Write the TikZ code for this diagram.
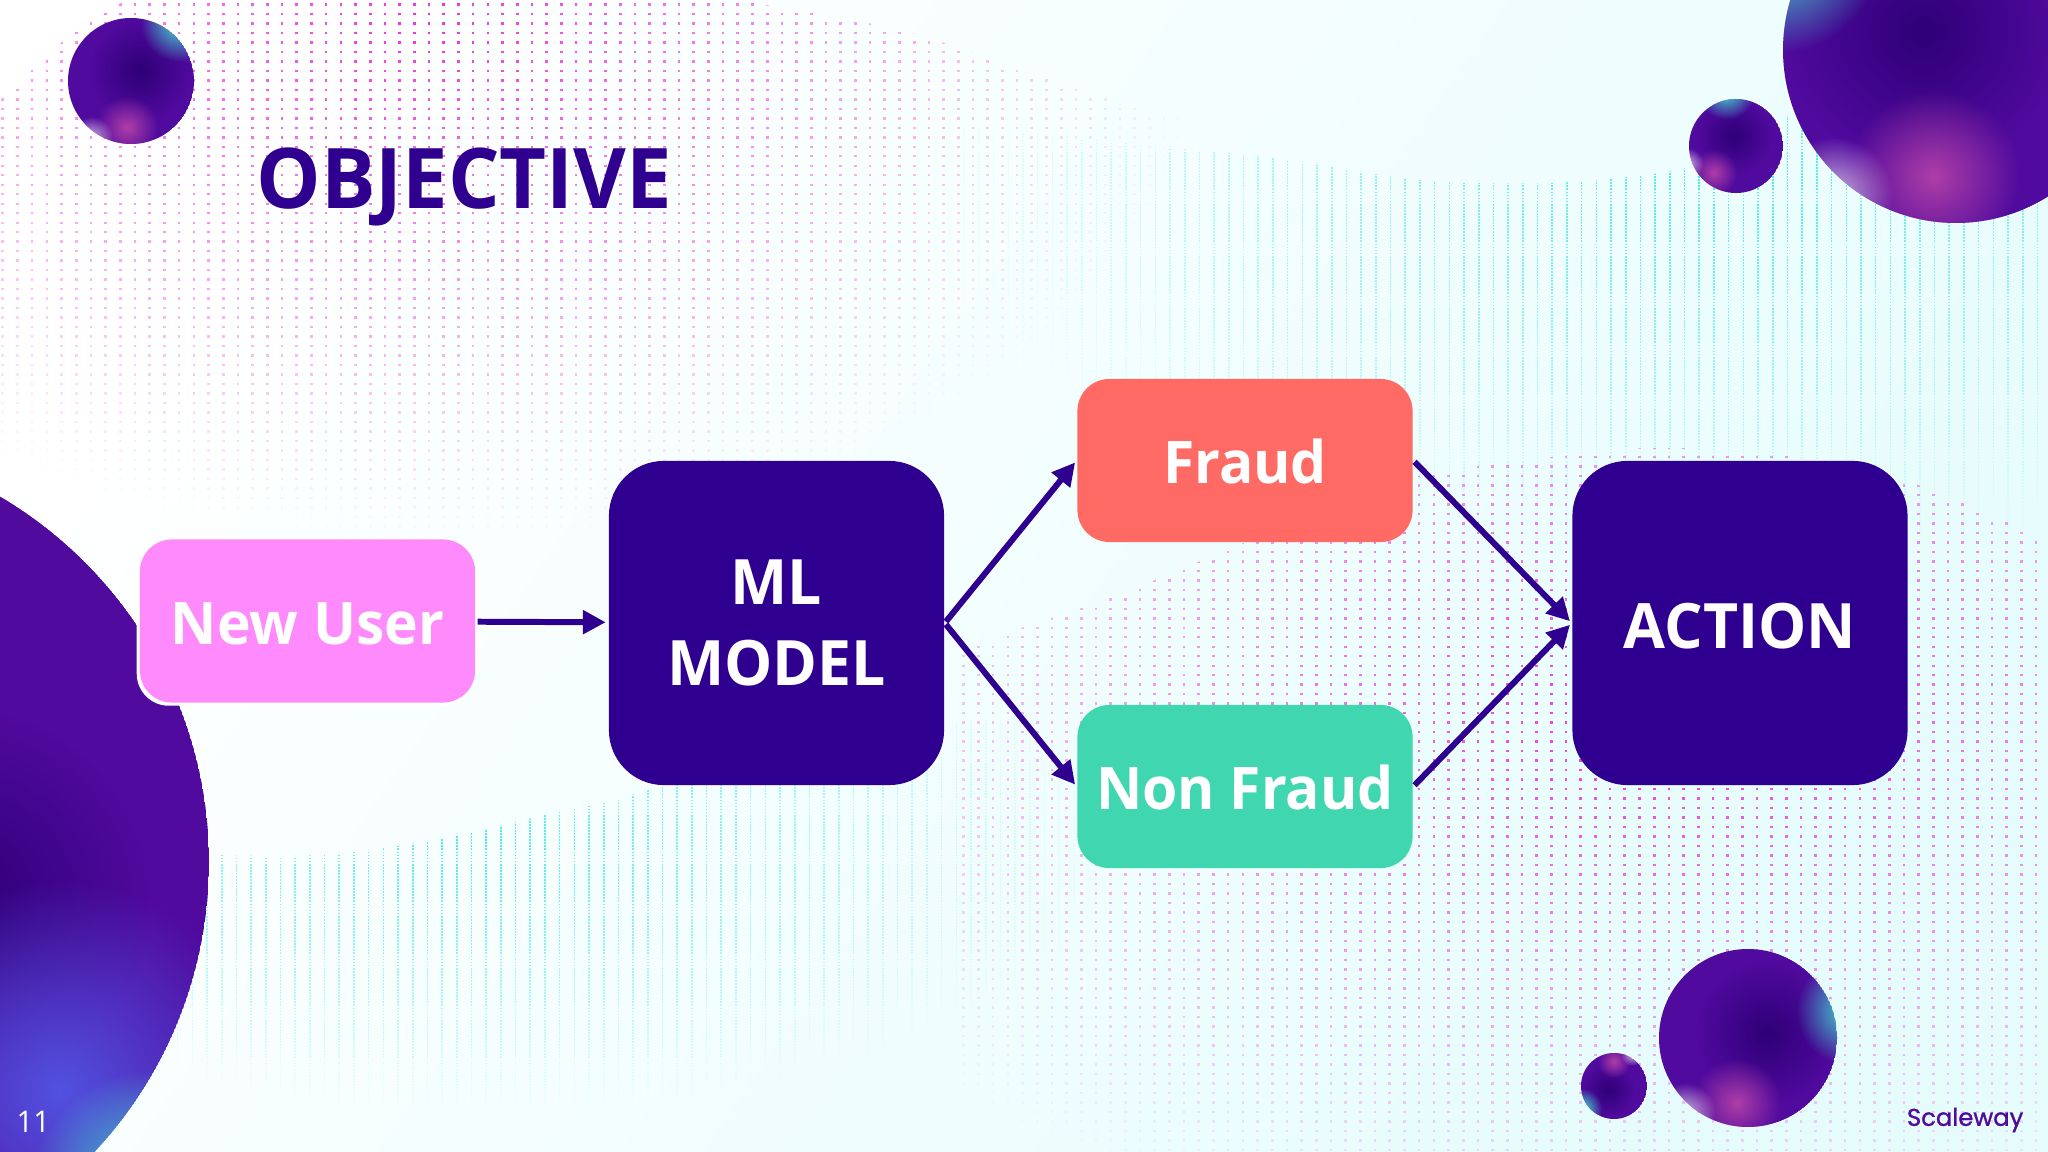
\documentclass[tikz,border=0pt]{standalone}
\usepackage{fontspec}
\setmainfont{Open Sans}[FakeStretch=0.97]
\newfontfamily\logofont{Poppins}[FakeBold=1.2]
\usetikzlibrary{arrows.meta,fadings,shadows}

\definecolor{slateindigo}{HTML}{2F0090}
\definecolor{userpink}{HTML}{FF8AFB}
\definecolor{fraudred}{HTML}{FF6B64}
\definecolor{okgreen}{HTML}{40D6B0}
\definecolor{paleaqua}{HTML}{E6FCFC}
\definecolor{dotpink}{HTML}{F030E0}
\definecolor{dotcyan}{HTML}{45EDE6}
\definecolor{ballbase}{HTML}{500A9E}
\definecolor{ballcore}{HTML}{2E0078}
\definecolor{ballteal}{HTML}{3FE3D0}
\definecolor{ballglow}{HTML}{B844A8}
\definecolor{ballpale}{HTML}{E8D4EC}
\definecolor{ballblue}{HTML}{5252E0}

\tikzfading[name=softorb, inner color=transparent!0, outer color=transparent!100]

\tikzset{
	box/.style={rounded corners=.32cm, minimum width=3.35cm, minimum height=1.63cm, inner sep=0pt, align=center, text=white,
		font=\bfseries\fontsize{16.7}{23}\selectfont, execute at begin node={\rule{0pt}{13.4pt}}},
	bigbox/.style={box, rounded corners=.55cm, minimum height=3.24cm, fill=slateindigo,
		font=\bfseries\fontsize{17.8}{23}\selectfont, execute at begin node={\rule{0pt}{14.4pt}}},
	flow/.style={-{Triangle[length=6.5pt,width=6.5pt]}, slateindigo, line width=1.7pt, shorten >=.7pt, shorten <=.5pt},
	pinkdots/.style={dotpink, line width=.75pt, dash pattern=on .7pt off 2pt},
	cyandots/.style={dotcyan, line width=.45pt, dash pattern=on .5pt off .37pt},
}

% one ball: x, y, radius, angle of the teal edge, angle of the pink patch
\newcommand{\sphereball}[5]{
	\begin{scope}[shift={(#1,#2)}]
		\clip (0,0) circle (#3);
		\fill[ballbase] (0,0) circle (#3);
		\fill[ballcore, path fading=softorb] (#4:{.22*#3}) circle ({.8*#3});
		\fill[ballglow, opacity=.9, path fading=softorb] (#5:{.74*#3}) circle ({.5*#3});
		\fill[ballpale, opacity=.85, path fading=softorb] (#5+30:{1.1*#3}) circle ({.34*#3});
		\fill[ballteal, path fading=softorb] (#4:{1.2*#3}) circle ({.62*#3});
	\end{scope}
}

% columns of dots, faded out from the middle: style, x, y, half width, half height
\newcommand{\dotfield}[5]{
	\pgfmathtruncatemacro{\ncols}{2*#4/14.7}
	\draw[#1, path fading=softorb] foreach \colx in {0,...,\ncols} { ({#2-#4+\colx*14.7},#3-#5) -- ++(0,2*#5) };
}

\begin{document}
\begin{tikzpicture}[x=.01cm, y=-.01cm]
	\useasboundingbox (0,0) rectangle (2048,1152);
	\clip (0,0) rectangle (2048,1152);

	% Hintergrund
	\shade[top color=white, bottom color=paleaqua, shading angle=55] (0,0) rectangle (2048,1152);

	% pink dots, top left
	\begin{scope}
		\clip plot[smooth] coordinates {(0,100) (61,43) (122,3) (200,-5)} -- (700,-5) -- plot[smooth] coordinates {(700,-5) (900,30) (1084,91) (1300,150)} -- (1300,600) -- (0,600) -- cycle;
		\dotfield{pinkdots}{430}{20}{780}{520}
	\end{scope}

	% cyan columns, top right
	\begin{scope}
		\clip plot[smooth] coordinates {(900,120) (1000,130) (1250,155) (1420,180) (1550,183) (1660,173) (1720,157) (1800,112) (2048,60)} -- (2048,700) -- (900,700) -- cycle;
		\dotfield{cyandots}{1720}{180}{800}{380}
	\end{scope}

	% cyan columns, bottom left
	\begin{scope}
		\clip plot[smooth] coordinates {(100,855) (211,855) (315,855) (435,840) (567,810) (613,800) (800,750) (1100,700)} -- (1300,1152) -- (100,1152) -- cycle;
		\dotfield{cyandots}{480}{840}{640}{270}
	\end{scope}

	% pink dots, right
	\begin{scope}
		\clip plot[smooth] coordinates {(950,660) (1007,633) (1113,597) (1227,550) (1400,480) (1588,453) (1675,448) (1795,457) (1912,483) (2060,545)} -- (2060,1152) -- (950,1152) -- cycle;
		\dotfield{pinkdots}{1650}{720}{950}{540}
	\end{scope}

	% Kugeln
	\sphereball{131}{81}{63}{-50}{95}
	\sphereball{1736}{146}{47}{-100}{130}
	\sphereball{1956}{50}{173}{-150}{100}
	\sphereball{1748}{1038}{89}{-15}{100}
	\sphereball{1614}{1086}{33}{145}{-90}
	\begin{scope}
		\clip (-215,862) circle (424);
		\fill[ballbase] (-215,862) circle (424);
		\fill[ballcore, path fading=softorb] (-40,900) circle (190);
		\fill[ballblue, path fading=softorb] (60,1090) circle (210);
		\fill[ballteal, path fading=softorb] (150,1190) circle (120);
	\end{scope}

	% Boxen
	\node[box, fill=userpink, copy shadow={shadow xshift=-.9pt, shadow yshift=-.9pt, fill=white, draw=none, opacity=1}] (user) at (307.5,621) {New User};
	\node[bigbox, execute at begin node={\rule{0pt}{16pt}}] (model) at (776.5,623) {ML\\MODEL};
	\node[box, fill=fraudred] (fraud) at (1245,460.5) {Fraud};
	\node[box, fill=okgreen] (nonfraud) at (1245,786.5) {Non Fraud};
	\node[bigbox] (action) at (1740,623) {ACTION};

	% Pfeile
	\draw[flow] (user) -- (model);
	\draw[flow] (model.east) -- (fraud.west);
	\draw[flow] (model.east) -- (nonfraud.west);
	\draw[flow] (fraud.east) -- (action.west);
	\draw[flow] (nonfraud.east) -- (action.west);

	% Text
	\node[anchor=west, inner sep=0pt, text=slateindigo, font=\bfseries\fontsize{23.8}{28}\selectfont] (title) at (256,187) {OBJECTIVE};
	\node[anchor=west, inner sep=0pt, text=white, font=\fontsize{8.5}{10}\selectfont] (pageno) at (16,1122) {11};
	\node[anchor=east, inner sep=0pt, text=ballbase, font=\logofont\fontsize{6.9}{9}\selectfont] (brand) at (2024,1120) {Scaleway};
\end{tikzpicture}
\end{document}
